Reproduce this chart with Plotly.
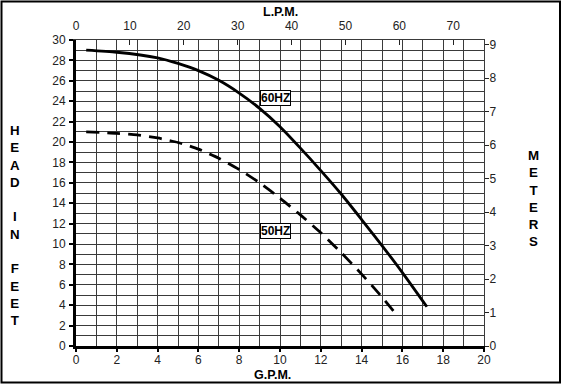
import plotly.graph_objects as go

# Data
gpm_60 = [0.5, 2, 4, 5, 6, 7, 8, 9, 10, 11, 12, 13, 14, 15, 16, 17.2]
head_60 = [29.0, 28.8, 28.25, 27.7, 27.0, 26.05, 24.8, 23.3, 21.5, 19.4, 17.2, 14.9, 12.4, 9.85, 7.2, 3.85]
gpm_50 = [0.5, 2, 3, 4, 5, 6, 7, 8, 9, 10, 11, 12, 13, 14, 15, 15.7]
head_50 = [21.0, 20.85, 20.7, 20.4, 19.95, 19.3, 18.4, 17.3, 16.0, 14.5, 12.85, 11.1, 9.15, 7.05, 4.8, 3.1]

GPM_MAX = 20
FT_MAX = 30
LPM_PER_GPM = 3.785411784
M_PER_FT = 0.3048

label_60 = ("60HZ", 9.8, 24.3)
label_50 = ("50HZ", 9.8, 11.25)

W, H = 562, 384
L, R, T, B = 76, 78, 40, 38
pw, ph = W - L - R, H - T - B

def px(xp):
    return (xp - L) / pw

def py(yp):
    return (H - B - yp) / ph

font_family = "Liberation Sans, Arial, sans-serif"
grid_col = "#3a3a3a"

fig = go.Figure()
fig.add_trace(go.Scatter(x=gpm_60, y=head_60, mode="lines",
                         line=dict(color="black", width=2.8, shape="spline", smoothing=0.6),
                         showlegend=False, hoverinfo="skip"))
fig.add_trace(go.Scatter(x=gpm_50, y=head_50, mode="lines",
                         line=dict(color="black", width=2.8, shape="spline", smoothing=0.6,
                                   dash="13px,8px"),
                         showlegend=False, hoverinfo="skip"))
# invisible trace to activate secondary axes
fig.add_trace(go.Scatter(x=[0], y=[0], xaxis="x2", yaxis="y2", mode="markers",
                         marker=dict(opacity=0), showlegend=False, hoverinfo="skip"))

tickfont = dict(family=font_family, size=12, color="#222")

fig.update_layout(
    width=W, height=H,
    margin=dict(l=L, r=R, t=T, b=B, pad=0),
    paper_bgcolor="white", plot_bgcolor="white",
    showlegend=False,
    xaxis=dict(range=[0, GPM_MAX], dtick=2, tick0=0, showgrid=True, gridcolor=grid_col, gridwidth=1,
               minor=dict(dtick=1, showgrid=True, gridcolor=grid_col, gridwidth=1),
               ticks="outside", ticklen=3, tickwidth=1.5, tickcolor="black", ticklabelstandoff=-2,
               showline=True, linecolor="black", linewidth=3, zeroline=False,
               tickfont=tickfont, fixedrange=True),
    yaxis=dict(range=[0, FT_MAX], dtick=2, tick0=0, showgrid=True, gridcolor=grid_col, gridwidth=1,
               minor=dict(dtick=1, showgrid=True, gridcolor=grid_col, gridwidth=1),
               ticks="outside", ticklen=4, tickwidth=1.5, tickcolor="black", ticklabelstandoff=1,
               showline=True, linecolor="black", linewidth=3, zeroline=False,
               tickfont=tickfont, fixedrange=True),
    xaxis2=dict(range=[0, GPM_MAX * LPM_PER_GPM], dtick=10, tick0=0, overlaying="x", side="top",
                showgrid=False, zeroline=False, ticks="inside", ticklen=5, tickwidth=1, tickcolor="#222",
                ticklabelstandoff=4,
                showline=True, linecolor=grid_col, linewidth=1,
                tickfont=tickfont, fixedrange=True),
    yaxis2=dict(range=[0, FT_MAX * M_PER_FT], dtick=1, tick0=0, overlaying="y", side="right",
                showgrid=False, zeroline=False, ticks="outside", ticklen=4, tickwidth=1, tickcolor="#222",
                ticklabelstandoff=-2,
                showline=True, linecolor=grid_col, linewidth=1,
                tickfont=tickfont, fixedrange=True),
)

ann = []
for txt, xv, yv in (label_60, label_50):
    ann.append(dict(x=xv, y=yv, xref="x", yref="y", text="<b>%s</b>" % txt, showarrow=False,
                    font=dict(family=font_family, size=12, color="black"),
                    bgcolor="white", bordercolor="black", borderwidth=1, borderpad=0))

title_font = dict(family=font_family, size=12.5, color="black")
ann.append(dict(x=px(280), y=py(12), xref="paper", yref="paper", text="<b>L.P.M.</b>",
                showarrow=False, font=title_font, xanchor="center", yanchor="middle"))
ann.append(dict(x=px(272), y=py(375), xref="paper", yref="paper", text="<b>G.P.M.</b>",
                showarrow=False, font=title_font, xanchor="center", yanchor="middle"))

left_letters = ["H", "E", "A", "D", " ", "I", "N", " ", "F", "E", "E", "T"]
ann.append(dict(x=px(15), y=py(225), xref="paper", yref="paper",
                text="<b>" + "<br>".join(left_letters) + "</b>",
                showarrow=False, font=dict(family=font_family, size=13.3, color="black"),
                xanchor="center", yanchor="middle", align="center"))
right_letters = ["M", "E", "T", "E", "R", "S"]
ann.append(dict(x=px(533), y=py(198.5), xref="paper", yref="paper",
                text="<b>" + "<br>".join(right_letters) + "</b>",
                showarrow=False, font=dict(family=font_family, size=13.3, color="black"),
                xanchor="center", yanchor="middle", align="center"))
fig.update_layout(annotations=ann)

fig.add_shape(type="rect", xref="paper", yref="paper",
              x0=px(1.5), x1=px(560), y0=py(382.5), y1=py(1.5),
              line=dict(color="black", width=2), fillcolor="rgba(0,0,0,0)", layer="above")

fig.write_html("out.html", config={"displayModeBar": False},
               post_script="document.body.style.margin='0';document.body.style.overflow='hidden';")
